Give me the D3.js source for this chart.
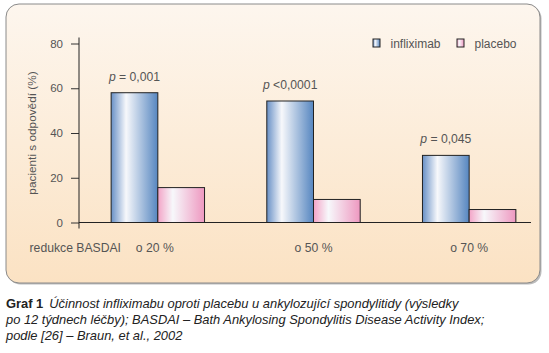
<!DOCTYPE html>
<html>
<head>
<meta charset="utf-8">
<script src="https://cdn.jsdelivr.net/npm/d3@7"></script>
<style>
  body { margin: 0; background: #fff; }
  svg { display: block; font-family: "Liberation Sans", Arial, sans-serif; }
</style>
</head>
<body>
<div id="main"></div>
<script>
const categories = ["o 20 %", "o 50 %", "o 70 %"]
const infliximab = [58, 54.3, 30]
const placebo = [15.6, 10.3, 5.8]
const pLabels = [["p", " = 0,001"], ["p", " <0,0001"], ["p", " = 0,045"]]
const yTicks = [0, 20, 40, 60, 80]
const seriesNames = ["infliximab", "placebo"]
const captionLines = [
  "Účinnost infliximabu oproti placebu u ankylozující spondylitidy (výsledky",
  "po 12 týdnech léčby); BASDAI – Bath Ankylosing Spondylitis Disease Activity Index;",
  "podle [26] – Braun, et al., 2002"
]

let width = 549,
    height = 353

const svg = d3.select("div#main")
  .append("svg")
  .attr("width", width)
  .attr("height", height)

const defs = svg.append("defs")

// panel background
let bg = defs.append("linearGradient").attr("id", "bg").attr("x1", 0).attr("y1", 0).attr("x2", 0).attr("y2", 1)
bg.append("stop").attr("offset", "0%").attr("stop-color", "#fdf6ee")
bg.append("stop").attr("offset", "100%").attr("stop-color", "#fbe2c3")

function barGrad(id, edgeL, edgeR) {
  let g = defs.append("linearGradient").attr("id", id).attr("x1", 0).attr("y1", 0).attr("x2", 1).attr("y2", 0)
  g.append("stop").attr("offset", "0%").attr("stop-color", edgeL)
  g.append("stop").attr("offset", "32%").attr("stop-color", "#f7f8fb")
  g.append("stop").attr("offset", "100%").attr("stop-color", edgeR)
}
barGrad("gInf", "#6890c6", "#5686c0")
barGrad("gPla", "#f3a4c7", "#ee98c0")
const fills = ["url(#gInf)", "url(#gPla)"]

// frame with a soft shadow
svg.append("rect")
  .attr("x", 7.5).attr("y", 5.5).attr("width", 534).attr("height", 279)
  .attr("rx", 13)
  .attr("fill", "#bbb")
svg.append("rect")
  .attr("x", 6).attr("y", 4).attr("width", 534).attr("height", 279)
  .attr("rx", 13)
  .attr("fill", "url(#bg)")
  .attr("stroke", "#8a8a8a")
  .attr("stroke-width", 1)

const x = d3.scaleBand()
  .domain(categories)
  .range([80, 547])
  .paddingInner(0.4)
  .paddingOuter(0.2)

const xSub = d3.scaleBand()
  .domain(seriesNames)
  .range([0, x.bandwidth()])

const y = d3.scaleLinear()
  .domain([0, 80])
  .range([222.5, 43.5])

// y axis
const yAxis = svg.append("g")
  .attr("transform", "translate(79,0)")
  .call(d3.axisLeft(y).tickValues(yTicks).tickSize(8).tickPadding(8).tickSizeOuter(0))
yAxis.select(".domain").remove()
yAxis.selectAll(".tick line").attr("stroke", "#333")
yAxis.selectAll(".tick text")
  .attr("fill", "#555")
  .attr("font-size", 11.5)
  .attr("font-family", "Liberation Sans, Arial, sans-serif")

svg.append("line")
  .attr("x1", 79).attr("x2", 79)
  .attr("y1", y(80) - 6).attr("y2", y(0) + 6)
  .attr("stroke", "#222")

svg.append("text")
  .attr("transform", "translate(36," + (y(40)) + ") rotate(-90)")
  .attr("text-anchor", "middle")
  .attr("font-size", 11.8)
  .attr("fill", "#555")
  .text("pacienti s odpovědí (%)")

// bars
const groups = svg.selectAll(".grp")
  .data(categories)
  .join("g")
  .attr("class", "grp")
  .attr("transform", d => "translate(" + x(d) + ",0)")

groups.selectAll("rect")
  .data((d, i) => [infliximab[i], placebo[i]].map((v, j) => ({ key: seriesNames[j], v: v, j: j })))
  .join("rect")
  .attr("x", d => xSub(d.key))
  .attr("y", d => y(d.v))
  .attr("width", xSub.bandwidth())
  .attr("height", d => y(0) - y(d.v))
  .attr("fill", d => fills[d.j])
  .attr("stroke", "#222")
  .attr("stroke-width", 1)

// p-values
groups.append("text")
  .attr("x", xSub("infliximab") + xSub.bandwidth() / 2)
  .attr("y", (d, i) => y(infliximab[i]) - 12)
  .attr("text-anchor", "middle")
  .attr("font-size", 12.2)
  .attr("fill", "#555")
  .each(function (d, i) {
    let t = d3.select(this)
    t.append("tspan").attr("font-style", "italic").text(pLabels[i][0])
    t.append("tspan").text(pLabels[i][1])
  })

// baseline
svg.append("line")
  .attr("x1", 79).attr("x2", 531)
  .attr("y1", y(0)).attr("y2", y(0))
  .attr("stroke", "#222")

// category labels
groups.append("text")
  .attr("x", (d, i) => x.bandwidth() / 2 - (i === 0 ? 3 : 0))
  .attr("y", 251.5)
  .attr("text-anchor", "middle")
  .attr("font-size", 12.2)
  .attr("fill", "#555")
  .text(d => d)

svg.append("text")
  .attr("x", 121)
  .attr("y", 251.5)
  .attr("text-anchor", "end")
  .attr("font-size", 12.2)
  .attr("fill", "#555")
  .text("redukce BASDAI")

// legend
const legendX = [373, 457]
const legend = svg.selectAll(".leg")
  .data(seriesNames)
  .join("g")
  .attr("class", "leg")
  .attr("transform", (d, i) => "translate(" + legendX[i] + ",39)")
legend.append("rect")
  .attr("width", 7).attr("height", 8)
  .attr("fill", (d, i) => fills[i])
  .attr("stroke", "#222")
legend.append("text")
  .attr("x", 17.5)
  .attr("y", 8.5)
  .attr("font-size", 12)
  .attr("fill", "#555")
  .text(d => d)

// caption
const cap = svg.append("g").attr("font-size", 12.9).attr("fill", "#222")
captionLines.forEach((line, i) => {
  let t = cap.append("text").attr("x", 6).attr("y", 308 + i * 16)
  if (i === 0) {
    t.append("tspan").attr("font-weight", "bold").text("Graf 1")
    t.append("tspan").attr("dx", 6).attr("font-style", "italic").text(line)
  } else {
    t.append("tspan").attr("font-style", "italic").text(line)
  }
})
</script>
</body>
</html>
